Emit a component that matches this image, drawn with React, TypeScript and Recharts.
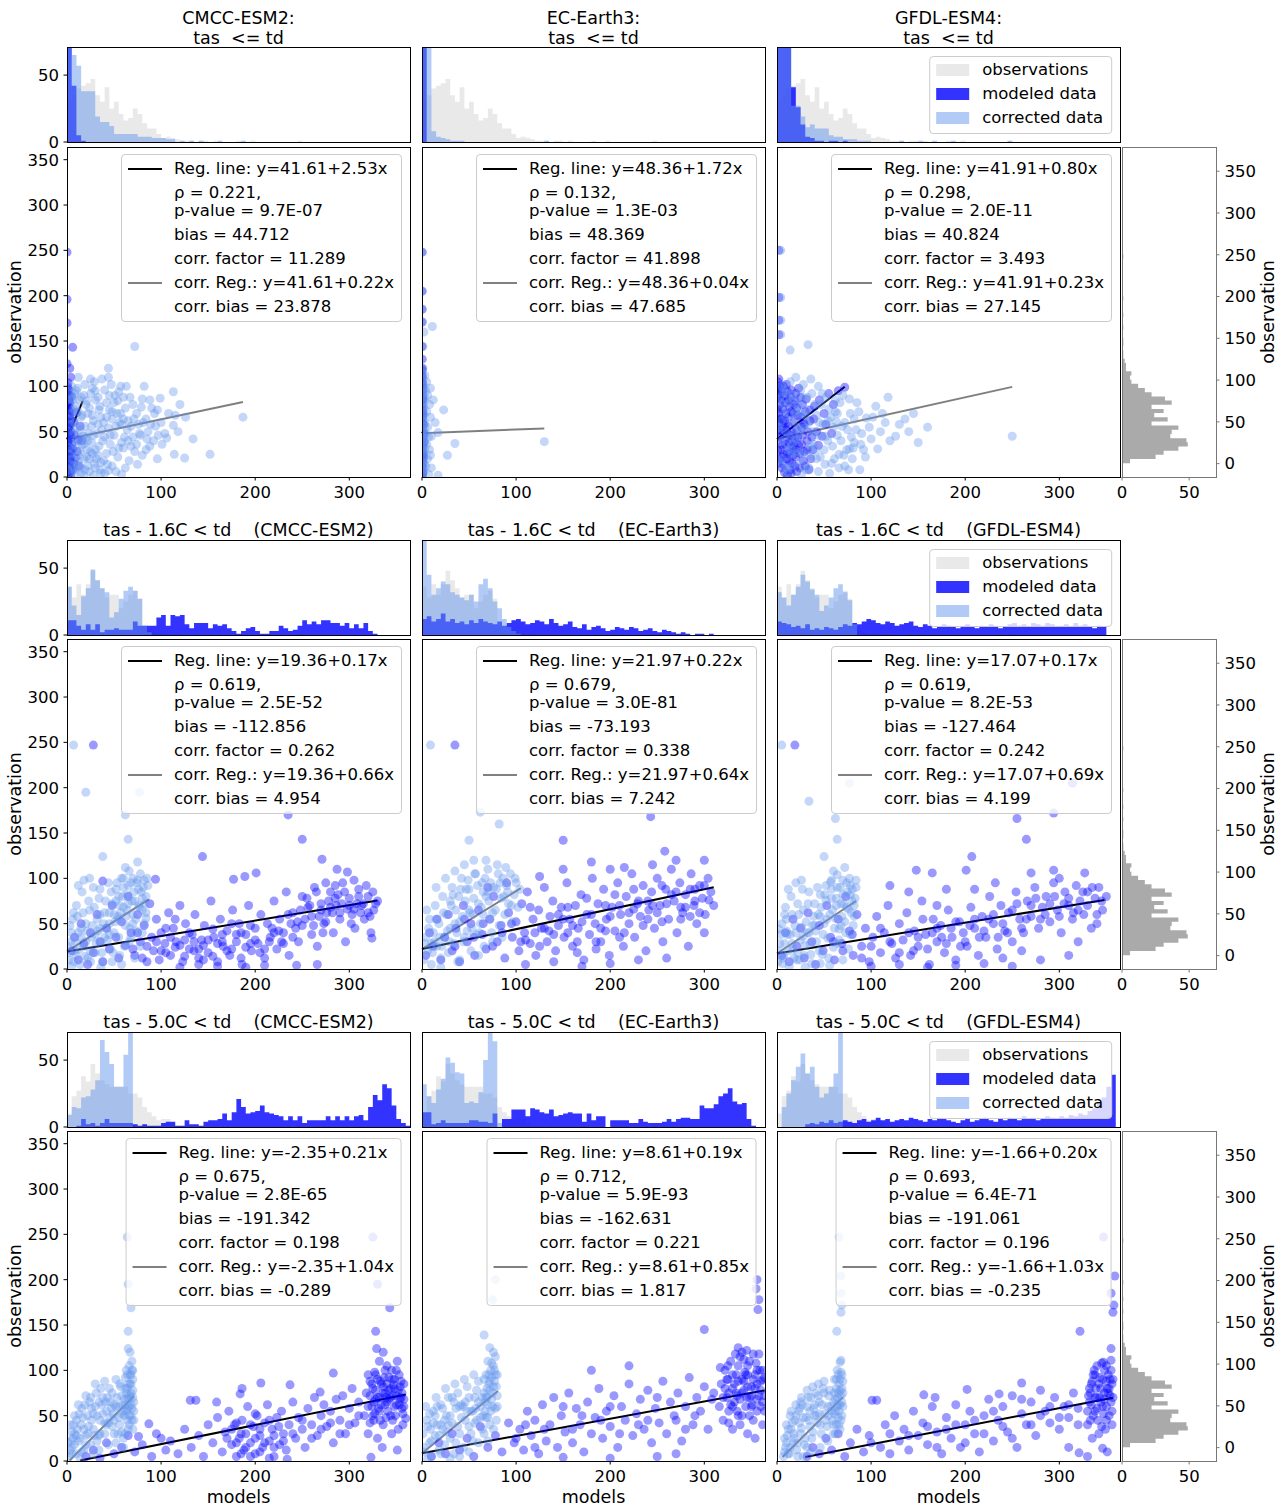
import React from "react";
import { ScatterChart, Scatter, XAxis, YAxis, ReferenceLine, ComposedChart, Area } from "recharts";

const FONT = "'DejaVu Sans', 'Liberation Sans', sans-serif";
const FS = 16.5;
const FS_LABEL = 17.5;
const TICK = { fontSize: FS, fill: "#000", fontFamily: FONT };

// page layout (px)
const COL_X = [67, 422, 777];
const AX_W = 343;
const HIST_Y = [47, 540, 1032];
const HIST_H = 95;
const SC_Y = [147, 639, 1131];
const SC_H = 330;
const RH_X = 1122;
const RH_W = 94;

const X_MAX = 364.5;
const Y_MAX = 364;
const H_MAX = 71;
const BIN = 5;
const Y_TICKS = [0, 50, 100, 150, 200, 250, 300, 350];
const X_TICKS = [0, 100, 200, 300];

const MOD_COLOR = "#0000ff";
const COR_COLOR = "#6495ed";

// ---------- titles ----------
const MODELS = ["CMCC-ESM2", "EC-Earth3", "GFDL-ESM4"];
const CONDITIONS = ["tas  <= td", "tas - 1.6C < td", "tas - 5.0C < td"];

// ---------- histogram counts (5-unit bins from 0) ----------
const OBS_R1 = [30, 35, 40, 42, 44, 47, 35, 30, 41, 25, 30, 21, 16, 18, 25, 21, 14, 10, 10, 6, 3, 4, 3, 2, 1, 1, 1, 0, 1, 1, 0, 1, 0, 0, 0, 0, 1, 0, 0, 1, 0, 0, 0, 0, 0, 0, 0, 0, 0, 1];
const OBS_R2 = [36, 28, 38, 30, 38, 48, 41, 35, 28, 30, 30, 20, 25, 30, 33, 27, 7, 4, 2, 1, 1, 1, 0, 1, 0, 0, 0, 0, 0, 0, 0, 0, 0, 0, 0, 0, 0, 0, 0, 0, 0, 0, 0, 0, 0, 0, 0, 0, 0, 1];
const OBS_R3 = [10, 23, 27, 38, 34, 47, 40, 35, 32, 30, 30, 30, 30, 25, 25, 22, 15, 11, 8, 5, 6, 6, 3, 1, 1, 1, 0, 1, 0, 0, 0, 0, 0, 0, 0, 0, 0, 0, 0, 0, 0, 0, 0, 0, 0, 0, 0, 0, 0, 1];

const HMOD_R1C1 = [250, 42, 5, 1];
const HCOR_R1C1 = [90, 65, 57, 38, 38, 38, 19, 15, 15, 12, 6, 6, 6, 6, 6, 4, 4, 4, 3, 3, 3, 2, 2, 0, 1, 0, 1, 0, 1, 0, 0, 0, 1, 0, 0, 0, 0, 1];
const HMOD_R1C2 = [400];
const HCOR_R1C2 = [200, 80, 8, 4, 3, 2, 1, 1, 1, 0, 0, 0, 0, 0, 0, 0, 0, 0, 0, 0, 0, 0, 0, 0, 0, 0, 1];
const HMOD_R1C3 = [200, 150, 90, 41, 26, 13, 4, 3, 1, 1, 0, 1, 1, 0, 1];
const HCOR_R1C3 = [120, 100, 80, 27, 27, 19, 11, 13, 10, 10, 10, 5, 4, 4, 2, 2, 2, 1, 1, 1, 0, 0, 0, 0, 0, 0, 1, 0, 0, 0, 1, 0, 0, 1, 0, 0, 0, 1, 0, 0, 0, 0, 0, 0, 0, 0, 0, 0, 0, 1];

const HMOD_R2C1 = [11, 11, 7, 4, 8, 4, 8, 2, 4, 4, 5, 4, 4, 4, 10, 7, 7, 7, 7, 13, 15, 7, 15, 14, 15, 8, 5, 9, 9, 9, 5, 8, 7, 8, 5, 3, 1, 3, 5, 6, 3, 1, 1, 3, 3, 7, 5, 3, 4, 7, 11, 8, 10, 8, 11, 11, 9, 9, 7, 9, 5, 8, 5, 9, 3, 1];
const HCOR_R2C1 = [36, 22, 15, 29, 35, 49, 41, 35, 32, 13, 17, 27, 33, 36, 33, 27, 7, 2];
const HMOD_R2C2 = [12, 14, 10, 12, 16, 10, 12, 9, 10, 8, 11, 9, 12, 10, 9, 8, 10, 7, 9, 11, 12, 10, 8, 9, 11, 10, 8, 12, 9, 7, 8, 10, 6, 5, 8, 4, 6, 7, 5, 3, 4, 6, 5, 4, 6, 5, 3, 4, 5, 3, 2, 4, 3, 2, 1, 2, 1, 0, 1, 1, 0, 1];
const HCOR_R2C2 = [75, 45, 30, 35, 40, 38, 32, 30, 28, 26, 30, 25, 38, 42, 35, 25, 20, 12, 6, 3, 1];
const HMOD_R2C3 = [10, 9, 8, 6, 7, 5, 8, 4, 5, 4, 6, 5, 4, 6, 8, 7, 9, 8, 10, 12, 11, 9, 8, 10, 9, 7, 8, 9, 10, 7, 6, 8, 7, 5, 6, 8, 7, 6, 5, 7, 8, 6, 5, 7, 6, 8, 7, 5, 6, 8, 9, 7, 8, 6, 9, 8, 7, 9, 8, 6, 7, 8, 6, 9, 7, 8, 6, 5, 7, 6];
const HCOR_R2C3 = [32, 28, 22, 30, 36, 45, 40, 34, 30, 18, 22, 28, 35, 38, 32, 26, 8];

const HMOD_R3C1 = [0, 0, 1, 6, 2, 3, 1, 3, 6, 3, 3, 3, 3, 3, 2, 1, 2, 1, 1, 1, 3, 4, 4, 1, 1, 5, 2, 2, 1, 4, 5, 5, 6, 10, 5, 11, 21, 15, 10, 11, 12, 16, 11, 10, 9, 8, 5, 8, 5, 8, 3, 5, 5, 5, 5, 8, 5, 8, 5, 8, 5, 8, 9, 5, 15, 24, 20, 32, 29, 16, 6, 3, 1];
const HCOR_R3C1 = [9, 15, 14, 22, 23, 28, 35, 65, 56, 47, 30, 30, 54, 90];
const HMOD_R3C2 = [11, 11, 2, 3, 5, 3, 3, 3, 3, 3, 5, 5, 4, 4, 3, 10, 0, 6, 6, 13, 13, 13, 8, 14, 13, 11, 10, 13, 8, 9, 10, 11, 10, 10, 4, 10, 5, 8, 8, 0, 5, 5, 5, 5, 3, 3, 6, 4, 3, 3, 3, 4, 6, 4, 6, 7, 7, 6, 6, 16, 14, 14, 17, 23, 25, 29, 19, 17, 18, 6, 1];
const HCOR_R3C2 = [32, 23, 18, 28, 36, 52, 48, 41, 40, 18, 19, 18, 26, 50, 85, 64, 3];
const HMOD_R3C3 = [0, 0, 0, 0, 0, 0, 2, 3, 2, 4, 3, 5, 3, 4, 5, 4, 3, 5, 6, 4, 5, 7, 5, 6, 4, 5, 6, 5, 7, 6, 5, 4, 6, 5, 7, 6, 5, 4, 3, 5, 6, 4, 5, 6, 7, 5, 4, 6, 5, 7, 6, 5, 8, 6, 7, 5, 6, 8, 7, 6, 8, 7, 9, 8, 10, 9, 12, 14, 18, 22, 30, 39];
const HCOR_R3C3 = [0, 15, 25, 35, 45, 55, 40, 45, 30, 22, 25, 30, 40, 90];

// right-side observation histogram (5-unit bins from 0.5)
const OBS_RIGHT_START = 0.5;
const OBS_RIGHT = [6, 25, 31, 42, 49, 48, 36, 37, 42, 22, 34, 24, 31, 22, 37, 32, 22, 17, 12, 7, 6, 7, 3, 3, 2, 1, 1, 0, 1, 1, 0, 0, 1, 0, 0, 1, 0, 0, 0, 1, 0, 0, 0, 0, 0, 0, 0, 0, 0, 1];

// ---------- scatter points [x, y, x, y, ...] ----------
const R1C1_MOD = [0,248, 0,196, 0,170, 6,143, 0,125, 3,120, 4,110, 1,104, 2,97, 0.5,92, 1.5,86, 3,82, 0.5,78, 2,73, 1,68, 4,63, 0.5,59, 2.5,55, 1,51, 3,47, 0.5,43, 1.5,39, 5,36, 0.5,31, 2,27, 1,23, 3,19, 0.5,15, 1.5,11, 0.5,6, 2,3, 0.3,1, 7,61, 6,31, 8,46, 10,71, 12,41, 9,21, 14,56, 5,89, 1,35, 2,60, 3,10, 0.2,20, 4,28, 6,8, 1.2,45, 2.2,90, 3.5,75, 0.8,65, 7,15, 11,28, 13,12, 16,40,
  0.5,100, 1,96, 1.5,80, 2,84, 2.5,70, 3,66, 3.5,58, 4,50, 4.5,44, 0.8,38, 1.3,30, 1.8,24, 2.3,16, 2.8,12, 3.3,6, 3.8,2, 0.2,74, 0.6,62, 1.1,53, 1.6,48, 2.1,41, 2.6,33, 3.1,29, 3.6,21, 4.1,17, 4.6,9, 0.1,57, 0.4,47, 0.7,28, 0.9,18];
const R1C1_COR = [2,50, 4,70, 3,40, 1,85, 5,100, 10,95, 15,88, 20,80, 25,92, 30,85, 35,78, 40,96, 45,90, 50,82, 55,94, 60,88, 22,70, 28,62, 34,74, 42,66, 48,72, 56,60, 62,76, 70,80, 74,70, 80,86, 84,64, 90,76, 8,60, 14,52, 20,44, 26,56, 32,48, 38,40, 44,54, 50,46, 58,38, 64,52, 70,44, 76,58, 86,50, 92,40, 100,60, 104,48, 6,30, 12,24, 18,36, 24,20, 30,30, 36,16, 42,26, 48,12, 54,22, 60,32, 66,18, 72,28, 80,24, 88,34, 96,20, 3,15, 8,8, 15,4, 22,12, 28,2, 35,8, 40,4, 52,6, 12,110, 25,108, 37,108, 44,120, 44,110, 67,88, 79,77, 88,85, 96,74, 99,87, 106,43, 113,94, 113,57, 115,68, 125,21, 126,66, 134,42, 152,25, 187,66, 72,144, 75,14, 58,3, 44,7, 114,25, 10,40, 16,68, 18,20, 33,58, 46,36, 53,70, 65,62, 68,34, 78,46, 84,30, 94,56, 108,70, 120,80, 118,50, 7,75, 13,85, 27,98, 63,100, 82,100, 2,5, 5,20, 9,35, 11,12, 14,28, 17,45, 19,8, 21,30, 23,48, 26,38, 29,15,
  3,92, 6,85, 9,78, 12,72, 15,66, 18,90, 21,84, 24,76, 27,68, 30,95, 33,88, 36,66, 39,60, 42,82, 45,74, 48,64, 51,90, 54,84, 57,70, 60,64, 4,58, 7,48, 10,54, 13,44, 16,36, 19,56, 22,40, 25,28, 28,46, 31,20, 34,34, 37,52, 40,44, 43,14, 46,46, 49,28, 52,56, 55,32, 58,58, 61,44, 3,25, 6,12, 9,4, 12,18, 15,10, 18,2, 21,22, 24,6, 27,26, 30,10, 33,24, 36,4, 39,18, 62,10, 65,40, 68,56, 71,64, 74,36, 77,48, 81,60, 85,42, 89,58, 93,70, 97,46, 101,36, 11,98, 19,102, 29,105, 47,102, 57,100, 4,86, 8,92, 1,64, 2,32, 1,8];
const R1C2_MOD = [0,248, 0,205, 0,185, 0,171, 0,144, 0.2,120, 0,110, 0.3,105, 0,100, 0.5,95, 0.2,90, 0.8,85, 0,80, 0.4,75, 1,70, 0.1,65, 0.6,60, 0,55, 0.3,50, 1.2,45, 0,40, 0.5,35, 0.2,30, 0.9,25, 0,20, 0.4,15, 0.1,10, 0.6,5, 0,2, 1.5,58, 2,48, 2.5,38, 1.8,22, 0.3,130, 0.1,88,
  0.1,118, 0.2,112, 0.4,102, 0.1,96, 0.3,86, 0.2,72, 0.5,68, 0.1,58, 0.3,42, 0.2,36, 0.4,28, 0.1,24, 0.3,18, 0.2,12, 0.1,6, 0.4,3];
const R1C2_COR = [2,160, 1,120, 3,112, 5,105, 2,100, 4,95, 6,90, 1,88, 3,84, 8,80, 2,76, 5,72, 9,98, 9,66, 3,60, 6,55, 1,52, 4,48, 7,44, 2,40, 5,36, 9,24, 3,30, 6,20, 1,16, 4,12, 2,6, 7,3, 11,166, 23,74, 17,49, 35,37, 27,24, 130,39, 17,2, 12,85, 14,60, 10,45, 8,30, 10,10, 0.5,248, 0.5,205, 0.5,185, 0.5,171, 1,144, 1,108, 0.5,92, 1,70, 0.5,64, 1,56, 0.5,44, 1,34, 0.5,26, 1,8, 0.5,2,
  0.3,115, 0.8,100, 1.5,96, 0.5,82, 1.2,78, 2,68, 0.7,62, 1.5,50, 0.4,46, 2,42, 1,38, 0.6,30, 1.8,28, 0.3,22, 1.3,18, 2.5,14, 0.8,10, 0.2,4, 3,56, 2.5,88];
const R1C3_MOD = [2,250, 2,198, 2,173, 2,157, 1,105, 3,100, 5,95, 8,90, 10,102, 12,85, 15,96, 18,80, 20,92, 25,88, 3,80, 6,75, 9,70, 12,66, 15,72, 18,60, 22,68, 26,55, 30,72, 35,62, 40,78, 45,85, 50,70, 55,92, 60,80, 65,95, 72,99, 2,60, 4,52, 7,48, 10,44, 13,38, 16,50, 19,42, 23,35, 27,46, 32,40, 38,30, 42,50, 48,45, 4,30, 7,25, 10,20, 13,28, 16,15, 20,22, 24,10, 28,18, 34,8, 1,40, 2,20, 5,10, 8,5, 11,2, 1,75, 3,65, 6,35, 9,58, 14,8, 17,32, 21,52, 29,28, 36,20, 44,35, 52,58, 58,48, 0.5,88, 1,15, 0.5,50,
  1,95, 3,90, 5,85, 7,100, 9,82, 11,94, 13,78, 15,88, 17,70, 19,84, 21,76, 23,98, 25,66, 27,80, 29,58, 31,86, 33,50, 35,74, 37,44, 39,64, 2,70, 4,64, 6,56, 8,62, 10,52, 12,56, 14,46, 16,40, 18,34, 20,30, 22,44, 24,26, 26,36, 28,60, 30,12, 32,30, 3,44, 5,22, 7,14, 9,36, 11,26, 13,18, 15,4, 17,24, 19,12, 21,6, 0.5,30, 1,62, 0.5,98, 2,108];
const R1C3_COR = [4,250, 4,198, 4,173, 4,157, 14,140, 33,146, 250,45, 136,64, 126,45, 107,31, 77,31, 63,61, 5,100, 10,92, 18,85, 25,95, 32,88, 40,80, 48,92, 55,75, 62,85, 70,90, 78,70, 85,82, 95,65, 105,78, 115,60, 8,70, 15,62, 22,55, 30,68, 38,50, 45,60, 52,45, 60,55, 68,40, 75,52, 82,38, 90,48, 100,42, 110,50, 120,40, 5,40, 12,30, 20,42, 28,25, 35,35, 42,20, 50,30, 58,15, 66,25, 72,12, 80,20, 88,8, 3,15, 10,5, 18,12, 26,3, 34,10, 44,6, 2,55, 6,80, 14,105, 20,110, 28,102, 36,108, 44,100, 16,25, 24,70, 54,62, 64,70, 92,30, 98,55, 140,50, 150,38, 160,55, 145,70,
  3,88, 7,96, 12,82, 17,90, 22,78, 27,86, 32,74, 37,92, 42,68, 47,80, 52,88, 57,66, 62,72, 67,82, 72,60, 77,86, 82,64, 87,72, 4,62, 9,50, 14,44, 19,70, 24,48, 29,54, 34,60, 39,36, 44,46, 49,58, 54,40, 59,34, 64,46, 69,56, 74,30, 79,44, 84,52, 89,36, 6,20, 11,10, 16,36, 21,28, 26,16, 31,8, 36,24, 41,30, 46,22, 51,14, 56,4, 61,20, 66,10, 71,24, 76,8, 81,32, 94,22, 102,66, 112,70, 118,88, 130,58];

const R2C1_MOD = [5,20, 8,35, 12,10, 15,50, 18,28, 22,5, 25,40, 28,18, 32,60, 35,30, 38,8, 42,45, 45,22, 48,70, 52,35, 55,12, 58,52, 62,26, 65,80, 68,40, 72,15, 75,60, 78,30, 82,48, 85,8, 88,72, 90,35, 92,20, 95,55, 98,10, 100,40, 104,28, 108,62, 110,15, 113,45, 116,30, 120,70, 123,8, 126,50, 130,22, 133,38, 136,60, 140,12, 143,32, 146,48, 150,18, 153,75, 156,35, 160,8, 163,55, 166,25, 170,42, 173,15, 176,65, 180,30, 183,50, 186,5, 190,38, 193,70, 196,20, 200,45, 203,28, 206,60, 210,12, 213,50, 216,35, 220,75, 223,22, 226,55, 230,40, 233,85, 236,15, 240,62, 243,45, 246,30, 250,80, 253,55, 256,68, 260,38, 263,90, 266,25, 270,72, 273,50, 276,62, 280,85, 283,40, 286,70, 290,55, 293,95, 296,30, 300,78, 303,60, 306,45, 310,88, 313,70, 316,55, 320,80, 323,40, 326,65, 330,75, 268,58, 278,75, 288,82, 298,66, 308,72, 318,92, 258,70, 248,65, 238,50, 228,30, 218,45, 120,2, 160,3, 190,2, 140,5, 210,4, 105,18, 115,24, 125,32, 135,20, 145,26, 155,14, 165,30, 175,22, 185,40, 195,28, 262,48, 272,40, 282,62, 292,72, 302,50, 312,62, 322,58, 285,92, 305,98, 275,95, 28,247, 144,124, 235,170, 250,143, 271,121, 287,110, 298,107, 201,106, 189,102, 177,99, 94,99, 38,97, 244,4, 266,5, 324,34, 328,72,
  70,22, 80,12, 95,30, 100,20, 110,35, 120,26, 130,40, 140,22, 150,32, 160,28, 170,20, 180,38, 190,24, 200,32, 210,22, 220,40, 230,28, 240,35, 250,48, 260,58, 270,65, 280,68, 290,62, 300,70, 310,80, 320,62, 255,78, 265,85, 275,52, 285,78, 295,85, 305,66, 315,72, 325,85, 245,52, 235,60, 225,42, 215,30, 205,18, 195,48, 185,12, 175,50, 165,38, 155,44, 145,10, 135,30, 125,14, 115,55, 105,45, 85,25, 75,40];
const R2C1_COR = [7,247, 20,195, 62,170, 65,143, 38,124, 77,195, 2,10, 4,30, 6,55, 8,20, 10,70, 12,40, 14,5, 16,85, 18,25, 20,50, 22,12, 24,65, 26,35, 28,90, 30,18, 32,55, 34,78, 36,30, 38,8, 40,62, 42,45, 44,95, 46,22, 48,72, 50,40, 52,88, 54,58, 56,15, 58,100, 60,68, 62,48, 64,82, 66,30, 68,95, 70,60, 72,75, 74,42, 76,88, 78,105, 80,65, 82,50, 84,80, 86,92, 70,100, 66,108, 60,90, 55,80, 50,60, 45,50, 40,35, 35,45, 30,38, 25,20, 20,30, 15,45, 10,15, 5,3, 3,48, 1,25, 7,62, 12,92, 18,98, 24,100, 62,112, 75,118, 68,35, 78,25, 72,12, 58,5, 48,8, 36,2, 80,78, 84,62, 76,70, 74,95, 82,98, 64,65, 56,70, 52,75,
  3,18, 5,40, 7,8, 9,30, 11,58, 13,22, 15,35, 17,62, 19,14, 21,42, 23,75, 25,8, 27,48, 29,68, 31,28, 33,42, 35,88, 37,18, 39,50, 41,75, 43,32, 45,62, 47,85, 49,18, 51,52, 53,95, 55,35, 57,62, 59,80, 61,25, 63,58, 65,92, 67,45, 69,75, 71,85, 73,55, 75,98, 77,68, 79,85, 81,90, 83,72, 85,100, 60,100, 65,72, 70,50, 80,40, 84,56, 55,55, 45,38, 35,60];
const R2C2_MOD = [4,15, 8,40, 12,25, 16,55, 20,10, 24,35, 28,60, 32,20, 36,45, 40,8, 44,70, 48,30, 52,50, 56,15, 60,65, 64,38, 68,22, 72,55, 76,80, 80,30, 84,48, 88,12, 92,62, 96,35, 100,52, 103,20, 106,72, 109,40, 112,85, 115,28, 118,55, 121,15, 124,65, 127,45, 130,90, 133,30, 136,58, 139,75, 142,20, 145,48, 148,68, 151,35, 154,95, 157,55, 160,25, 163,70, 166,45, 169,82, 172,10, 175,60, 178,38, 181,100, 184,50, 187,72, 190,30, 193,88, 196,55, 199,15, 202,68, 205,42, 208,95, 211,60, 214,25, 217,80, 220,50, 223,105, 226,35, 229,72, 232,58, 235,92, 238,20, 241,65, 244,85, 247,45, 250,100, 253,70, 256,30, 259,88, 262,55, 265,110, 268,75, 271,40, 274,95, 277,62, 280,82, 283,25, 286,105, 289,70, 292,50, 295,92, 298,78, 301,60, 304,100, 307,85, 310,70, 110,5, 140,8, 170,3, 200,6, 230,10, 260,12, 125,102, 150,110, 180,118, 215,112, 245,115, 270,120, 90,95, 70,90, 155,40, 165,18, 185,22, 195,42, 210,35, 225,88, 240,75, 255,52, 275,68, 290,88, 300,40, 285,58, 243,168, 200,110, 150,142, 300,120, 258,130, 35,247,
  110,32, 120,40, 130,45, 140,38, 150,55, 160,48, 170,52, 180,60, 190,45, 200,58, 210,70, 220,62, 230,75, 240,55, 250,62, 260,72, 270,85, 280,68, 290,75, 300,92, 305,76, 295,62, 285,88, 275,55, 265,82, 255,92, 245,70, 235,48, 225,66, 215,40, 205,82, 195,70, 185,30, 175,78, 165,30, 155,68, 145,60, 135,42, 125,25, 115,68, 105,30, 95,50, 85,40, 75,25, 65,50, 55,35, 45,55, 35,25];
const R2C2_COR = [9,247, 62,173, 50,142, 82,160, 68,120, 2,10, 4,35, 6,20, 8,55, 10,5, 12,40, 14,70, 16,25, 18,50, 20,12, 22,80, 24,35, 26,60, 28,18, 30,45, 32,90, 34,28, 36,65, 38,8, 40,52, 42,100, 44,30, 46,75, 48,42, 50,88, 52,20, 54,60, 56,105, 58,38, 60,72, 62,50, 64,95, 66,25, 68,80, 70,110, 72,55, 74,40, 76,90, 78,65, 80,115, 82,48, 84,78, 86,100, 88,60, 90,92, 92,72, 94,105, 96,52, 98,82, 100,95, 102,68, 104,88, 5,65, 15,90, 25,100, 35,108, 45,115, 55,120, 65,60, 75,30, 85,35, 60,15, 40,10, 20,2, 10,28, 30,75, 50,65, 70,85,
  3,28, 7,45, 11,18, 15,55, 19,35, 23,62, 27,42, 31,70, 35,50, 39,80, 43,58, 47,88, 51,62, 55,78, 59,92, 63,68, 67,100, 71,75, 75,62, 79,88, 83,95, 87,80, 91,85, 95,70, 99,100, 61,40, 53,45, 45,35, 37,40, 29,30, 21,25, 13,30, 65,85, 73,95, 81,105, 89,112, 57,105, 49,98, 41,88, 33,82];
const R2C3_MOD = [5,15, 9,40, 13,8, 17,55, 21,25, 25,45, 29,12, 33,62, 37,30, 41,5, 45,48, 49,20, 53,70, 57,35, 61,10, 65,55, 69,28, 73,80, 77,42, 81,15, 85,60, 90,25, 94,45, 98,8, 102,35, 106,58, 110,18, 114,40, 118,70, 122,28, 126,12, 130,50, 134,32, 138,62, 142,15, 146,42, 150,25, 154,75, 158,38, 162,5, 166,55, 170,30, 174,48, 178,18, 182,65, 186,35, 190,10, 194,52, 198,40, 202,25, 206,68, 210,45, 214,15, 218,58, 222,35, 226,80, 230,50, 234,22, 238,70, 242,42, 246,62, 250,30, 254,85, 258,55, 262,40, 266,75, 270,58, 274,90, 278,45, 282,68, 286,80, 290,52, 294,95, 298,65, 302,40, 306,85, 310,70, 314,55, 318,92, 322,75, 326,60, 330,85, 334,45, 338,78, 342,90, 346,65, 350,80, 100,3, 130,5, 160,2, 190,4, 220,6, 250,3, 280,10, 310,15, 240,12, 170,70, 140,85, 120,92, 180,88, 232,95, 300,100, 320,30, 340,50, 260,20, 210,88, 19,247, 294,172, 255,166, 265,143, 207,124, 148,109, 165,106, 201,109, 270,106, 294,109, 327,106, 141,186, 314,205,
  60,30, 70,20, 80,38, 90,12, 100,25, 110,45, 120,30, 130,18, 140,40, 150,35, 160,22, 170,45, 180,28, 190,52, 200,30, 210,55, 220,42, 230,60, 240,50, 250,65, 260,45, 270,70, 280,55, 290,72, 300,58, 310,78, 320,65, 330,70, 340,60, 345,75, 335,90, 325,85, 315,62, 305,72, 295,80, 285,60, 275,78, 265,55, 255,72, 245,40, 235,35, 225,55, 215,35, 205,48, 195,25, 185,45, 175,35, 165,40, 155,55, 145,20];
const R2C3_COR = [5,247, 34,185, 77,205, 62,166, 64,143, 50,124, 1,8, 3,28, 5,50, 7,15, 9,68, 11,38, 13,3, 15,80, 17,22, 19,48, 21,10, 23,60, 25,32, 27,88, 29,15, 31,52, 33,72, 35,28, 37,6, 39,58, 41,42, 43,90, 45,20, 47,68, 49,38, 51,82, 53,55, 55,12, 57,96, 59,65, 61,45, 63,78, 65,28, 67,90, 69,58, 71,72, 73,40, 75,85, 77,100, 79,62, 81,48, 83,78, 84,90, 70,98, 64,104, 58,88, 52,76, 46,58, 40,48, 34,40, 28,36, 22,18, 16,28, 10,42, 6,12, 2,44, 8,60, 12,88, 20,95, 26,98, 60,108, 72,112, 66,32, 76,22, 70,10, 56,4, 46,6, 30,2, 80,75, 82,58, 74,68, 78,92,
  2,20, 4,38, 6,6, 8,28, 10,55, 12,20, 14,38, 16,60, 18,12, 20,40, 22,72, 24,10, 26,46, 28,65, 30,26, 32,40, 34,85, 36,16, 38,48, 40,72, 42,30, 44,60, 46,82, 48,16, 50,50, 52,92, 54,34, 56,60, 58,78, 60,24, 62,56, 64,90, 66,44, 68,72, 70,82, 72,52, 74,95, 76,66, 78,82, 80,88, 82,70, 84,98, 58,98, 63,70, 68,48, 78,38];

const R3C1_MOD = [325,247, 330,195, 343,169, 328,143, 329,124, 336,120, 351,110, 283,97, 206,86, 237,84, 269,76, 186,80, 184,74, 131,67, 137,67, 159,65, 358,68, 360,47, 87,41, 76,27, 100,25, 323,4, 351,12, 234,2, 20,5, 28,12, 35,3, 42,20, 50,8, 58,15, 65,28, 72,10, 80,18, 90,5, 95,30, 105,12, 110,22, 118,8, 125,35, 132,15, 140,28, 145,5, 150,40, 155,20, 160,48, 165,10, 168,32, 172,55, 175,18, 178,40, 180,5, 183,25, 186,45, 188,12, 190,30, 192,60, 195,20, 198,38, 200,8, 202,50, 205,28, 208,15, 210,42, 213,62, 215,22, 218,35, 220,5, 223,48, 226,18, 228,55, 230,30, 233,12, 236,40, 240,65, 243,25, 246,48, 250,35, 253,15, 256,58, 260,40, 263,70, 266,28, 270,50, 273,62, 276,38, 280,55, 283,20, 286,68, 290,45, 293,72, 296,30, 300,58, 303,80, 306,42, 310,65, 316,50, 318,75, 320,30, 322,88, 324,60, 326,45, 328,95, 330,70, 332,55, 334,85, 336,40, 338,100, 340,65, 342,78, 344,50, 346,90, 348,60, 350,72, 352,35, 354,82, 356,58, 330,25, 335,15, 340,105, 345,30, 325,80, 332,110, 338,62, 342,92, 336,75, 328,68, 320,95, 346,45, 350,100, 355,70, 358,85, 322,42, 327,52, 333,88, 339,48, 344,70, 348,80, 353,62, 357,40,
  320,60, 322,72, 324,85, 326,65, 328,78, 330,90, 332,70, 334,62, 336,82, 338,75, 340,85, 342,68, 344,80, 346,72, 348,90, 350,62, 352,78, 354,68, 356,75, 358,60, 325,50, 333,45, 341,55, 349,50, 357,52, 327,98, 337,92, 345,100, 353,95, 331,58, 339,70, 347,84, 355,88, 170,25, 175,35, 180,20, 185,30, 190,15, 195,40, 200,25, 205,35, 210,20, 215,45, 220,28, 225,38, 230,22, 185,8, 195,5, 205,10, 215,3, 180,42, 200,52, 220,15, 240,30, 250,45, 260,25, 270,35, 280,42, 290,30, 300,40, 310,50];
const R3C1_COR = [64,247, 65,195, 68,169, 65,143, 65,124, 67,120, 69,110, 62,30, 64,45, 66,60, 68,75, 70,90, 63,55, 65,70, 67,85, 69,100, 71,65, 62,80, 64,95, 66,40, 68,50, 70,35, 61,68, 63,100, 65,85, 67,72, 69,58, 71,45, 66,105, 68,95, 70,78, 2,5, 5,15, 8,30, 10,8, 12,22, 15,40, 18,12, 20,28, 22,50, 25,18, 28,35, 30,60, 32,22, 35,45, 38,70, 40,30, 42,55, 45,80, 48,38, 50,62, 52,20, 55,48, 58,72, 60,15, 3,40, 6,25, 10,45, 14,3, 16,58, 24,65, 28,8, 34,12, 36,80, 44,18, 46,65, 54,30, 56,85, 58,52, 8,50, 12,62, 20,72, 26,45, 30,85, 40,88, 48,75, 52,90, 5,32, 18,35, 1,20, 34,28, 42,40, 50,45,
  60,25, 61,50, 62,62, 63,75, 64,58, 65,35, 66,50, 67,95, 68,62, 69,45, 70,70, 71,55, 62,92, 64,80, 66,68, 68,85, 70,100, 60,55, 5,8, 8,18, 11,35, 14,25, 17,48, 20,18, 23,38, 26,58, 29,28, 32,50, 35,30, 38,52, 41,65, 44,42, 47,58, 50,30, 53,70, 56,40, 59,62, 4,22, 10,28, 16,10, 22,30, 28,52, 34,65, 40,42, 46,48, 52,60, 58,32, 3,12, 7,40, 13,52, 19,62, 25,70, 31,75, 37,62, 43,70, 49,52, 55,60, 57,82];
const R3C2_MOD = [356,200, 358,178, 357,167, 355,190, 300,145, 317,103, 336,125, 345,122, 10,5, 18,20, 25,8, 32,30, 40,12, 48,25, 55,5, 62,38, 70,15, 78,28, 85,10, 92,42, 98,20, 104,35, 108,12, 112,55, 116,28, 120,45, 124,8, 128,62, 132,22, 136,40, 140,70, 144,15, 148,50, 152,32, 156,75, 160,20, 164,58, 168,40, 172,10, 176,65, 180,30, 184,48, 188,80, 192,25, 196,55, 200,38, 204,72, 208,15, 212,60, 216,45, 220,85, 224,28, 228,52, 232,68, 236,35, 240,78, 244,20, 248,58, 252,42, 256,88, 260,30, 264,65, 268,50, 272,75, 276,22, 280,60, 284,92, 288,40, 292,70, 296,55, 300,82, 304,35, 308,68, 250,5, 200,3, 150,4, 270,8, 180,100, 220,105, 316,60, 318,85, 320,45, 322,100, 324,70, 326,55, 328,110, 330,80, 332,65, 334,95, 336,50, 338,115, 340,75, 342,88, 344,60, 346,105, 348,70, 350,82, 352,45, 354,95, 356,68, 358,118, 360,78, 362,90, 364,55, 330,35, 338,40, 346,30, 354,25, 362,40, 325,90, 335,72, 343,98, 351,62, 359,100, 340,120, 348,50, 356,85, 364,72,
  320,70, 322,80, 324,90, 326,75, 328,62, 330,95, 332,85, 334,75, 336,105, 338,68, 340,90, 342,78, 344,95, 346,82, 348,110, 350,72, 352,90, 354,80, 356,100, 358,72, 360,88, 362,65, 364,92, 325,105, 335,55, 345,70, 355,108, 330,60, 340,50, 350,60, 360,60, 342,112, 352,118, 333,118, 326,42, 336,88, 346,95, 356,55, 362,100, 100,25, 110,40, 130,35, 150,60, 170,50, 190,45, 210,30, 230,40, 250,70, 270,45, 290,50, 310,75, 120,15, 160,35, 200,60, 240,45, 280,35];
const R3C2_COR = [66,139, 75,178, 78,200, 72,125, 66,30, 68,48, 70,62, 72,78, 74,92, 76,105, 78,115, 80,72, 67,55, 69,70, 71,85, 73,100, 75,60, 77,88, 79,45, 68,95, 70,110, 72,40, 74,68, 76,82, 78,58, 80,95, 66,75, 70,22, 76,35, 1,30, 3,10, 5,45, 8,20, 10,5, 12,55, 14,28, 16,40, 18,12, 20,62, 22,35, 24,18, 26,50, 28,70, 30,25, 32,42, 34,8, 36,58, 38,75, 40,30, 42,48, 44,15, 46,65, 48,82, 50,38, 52,55, 54,22, 56,70, 58,45, 60,88, 62,60, 64,35, 4,60, 9,35, 15,70, 25,80, 35,85, 45,90, 55,95, 60,20, 50,10, 40,5, 30,3, 20,8, 6,2, 12,42, 28,40, 44,60, 57,58,
  65,50, 67,65, 69,80, 71,95, 73,55, 75,75, 77,100, 79,82, 80,60, 66,90, 68,70, 70,48, 72,88, 74,108, 76,120, 78,95, 2,15, 6,38, 10,22, 14,50, 18,28, 22,58, 26,32, 30,50, 34,65, 38,38, 42,62, 46,45, 50,70, 54,55, 58,78, 62,48, 64,70, 8,52, 16,60, 24,45, 32,70, 40,60, 48,55, 56,42, 60,65, 20,40, 36,20, 52,30];
const R3C3_MOD = [347,247, 359,204, 355,185, 358,172, 357,164, 322,143, 355,124, 347,109, 355,111, 32,5, 38,15, 45,8, 52,25, 58,12, 65,30, 72,5, 78,20, 85,35, 92,10, 98,28, 101,67, 106,67, 110,15, 115,40, 120,8, 125,50, 130,22, 135,35, 140,12, 145,55, 150,28, 155,42, 156,73, 160,18, 165,60, 168,70, 170,32, 175,8, 180,48, 185,25, 190,62, 195,15, 200,40, 202,79, 205,55, 210,30, 215,10, 220,50, 225,68, 230,22, 235,45, 236,74, 240,60, 245,32, 250,72, 255,15, 260,52, 260,86, 265,40, 270,65, 275,28, 280,78, 285,55, 290,42, 295,70, 300,35, 305,60, 310,48, 315,75, 320,58, 310,15, 321,9, 330,40, 332,65, 334,85, 336,50, 338,95, 340,70, 342,30, 344,80, 346,60, 348,100, 350,45, 352,75, 354,90, 356,55, 357,70, 335,25, 340,105, 345,38, 350,88, 355,65, 333,75, 338,55, 343,92, 348,68, 353,80, 330,5, 346,14, 351,10,
  330,55, 332,80, 334,62, 336,95, 338,70, 340,58, 342,85, 344,65, 346,90, 348,75, 350,60, 352,95, 354,72, 356,85, 331,72, 335,88, 339,80, 343,70, 347,52, 351,80, 355,100, 357,90, 333,45, 341,45, 349,35, 353,50, 337,100, 345,108, 350,105, 356,40, 200,20, 210,45, 220,30, 230,55, 240,38, 250,25, 260,68, 270,40, 280,50, 290,60, 300,48, 310,62, 320,40, 180,35, 160,38, 140,28, 120,30, 100,20, 190,40, 170,15];
const R3C3_COR = [66,247, 68,204, 68,185, 69,172, 68,164, 63.5,143, 67,109, 68,111, 60,40, 62,55, 64,70, 66,85, 68,98, 70,60, 61,75, 63,90, 65,48, 67,62, 69,80, 62,30, 64,100, 66,40, 68,72, 70,88, 60,65, 65,95, 69,50, 67,35, 7,5, 9,15, 11,28, 13,8, 15,35, 17,20, 19,45, 21,12, 23,55, 25,30, 27,62, 29,18, 31,48, 33,70, 35,38, 37,25, 39,58, 41,75, 43,42, 45,65, 47,30, 49,80, 51,52, 53,38, 55,72, 57,60, 59,45, 10,40, 14,50, 20,62, 26,70, 32,78, 38,82, 44,85, 50,88, 8,25, 18,30, 28,5, 36,10, 46,15, 54,22, 24,42, 40,50,
  60,30, 61,52, 62,68, 63,80, 64,60, 65,75, 66,55, 67,90, 68,45, 69,65, 70,75, 61,90, 63,40, 65,62, 67,78, 69,95, 8,10, 10,20, 12,35, 14,15, 16,42, 18,25, 20,50, 22,20, 24,58, 26,36, 28,48, 30,25, 32,60, 34,45, 36,70, 38,32, 40,62, 42,50, 44,72, 46,40, 48,62, 50,75, 52,45, 54,60, 56,78, 58,55, 15,55, 25,65, 35,55, 45,52, 55,50, 12,8, 22,5, 32,15];

// ---------- regression lines: intercept, slope, x-range (model / corrected) ----------
const REG_R1C1 = { a: 41.61, b: 2.53, mx: [0, 16.7], bc: 0.22, cx: [0, 187] };
const REG_R1C2 = { a: 48.36, b: 1.72, mx: [0, 2.5], bc: 0.04, cx: [0, 130] };
const REG_R1C3 = { a: 41.91, b: 0.8, mx: [0, 72], bc: 0.23, cx: [0, 250] };
const REG_R2C1 = { a: 19.36, b: 0.17, mx: [0, 330], bc: 0.66, cx: [0, 87] };
const REG_R2C2 = { a: 21.97, b: 0.22, mx: [0, 310], bc: 0.64, cx: [0, 105] };
const REG_R2C3 = { a: 17.07, b: 0.17, mx: [0, 348], bc: 0.69, cx: [0, 84] };
const REG_R3C1 = { a: -2.35, b: 0.21, mx: [14, 360], bc: 1.04, cx: [2.8, 71.3] };
const REG_R3C2 = { a: 8.61, b: 0.19, mx: [0, 364], bc: 0.85, cx: [0, 80.7] };
const REG_R3C3 = { a: -1.66, b: 0.2, mx: [30, 357], bc: 1.03, cx: [5.9, 70] };

// ---------- legend texts ----------
const LEG_R1C1 = ["Reg. line: y=41.61+2.53x", "ρ = 0.221,", "p-value = 9.7E-07", "bias = 44.712", "corr. factor = 11.289", "corr. Reg.: y=41.61+0.22x", "corr. bias = 23.878"];
const LEG_R1C2 = ["Reg. line: y=48.36+1.72x", "ρ = 0.132,", "p-value = 1.3E-03", "bias = 48.369", "corr. factor = 41.898", "corr. Reg.: y=48.36+0.04x", "corr. bias = 47.685"];
const LEG_R1C3 = ["Reg. line: y=41.91+0.80x", "ρ = 0.298,", "p-value = 2.0E-11", "bias = 40.824", "corr. factor = 3.493", "corr. Reg.: y=41.91+0.23x", "corr. bias = 27.145"];
const LEG_R2C1 = ["Reg. line: y=19.36+0.17x", "ρ = 0.619,", "p-value = 2.5E-52", "bias = -112.856", "corr. factor = 0.262", "corr. Reg.: y=19.36+0.66x", "corr. bias = 4.954"];
const LEG_R2C2 = ["Reg. line: y=21.97+0.22x", "ρ = 0.679,", "p-value = 3.0E-81", "bias = -73.193", "corr. factor = 0.338", "corr. Reg.: y=21.97+0.64x", "corr. bias = 7.242"];
const LEG_R2C3 = ["Reg. line: y=17.07+0.17x", "ρ = 0.619,", "p-value = 8.2E-53", "bias = -127.464", "corr. factor = 0.242", "corr. Reg.: y=17.07+0.69x", "corr. bias = 4.199"];
const LEG_R3C1 = ["Reg. line: y=-2.35+0.21x", "ρ = 0.675,", "p-value = 2.8E-65", "bias = -191.342", "corr. factor = 0.198", "corr. Reg.: y=-2.35+1.04x", "corr. bias = -0.289"];
const LEG_R3C2 = ["Reg. line: y=8.61+0.19x", "ρ = 0.712,", "p-value = 5.9E-93", "bias = -162.631", "corr. factor = 0.221", "corr. Reg.: y=8.61+0.85x", "corr. bias = 1.817"];
const LEG_R3C3 = ["Reg. line: y=-1.66+0.20x", "ρ = 0.693,", "p-value = 6.4E-71", "bias = -191.061", "corr. factor = 0.196", "corr. Reg.: y=-1.66+1.03x", "corr. bias = -0.235"];

const HIST_LEGEND = [
  { label: "observations", color: "#e9e9e9" },
  { label: "modeled data", color: "#3333ff" },
  { label: "corrected data", color: "#b1caf6" },
];

const PANELS = [
  { row: 0, col: 0, mod: R1C1_MOD, cor: R1C1_COR, obs: OBS_R1, hMod: HMOD_R1C1, hCor: HCOR_R1C1, reg: REG_R1C1, leg: LEG_R1C1 },
  { row: 0, col: 1, mod: R1C2_MOD, cor: R1C2_COR, obs: OBS_R1, hMod: HMOD_R1C2, hCor: HCOR_R1C2, reg: REG_R1C2, leg: LEG_R1C2 },
  { row: 0, col: 2, mod: R1C3_MOD, cor: R1C3_COR, obs: OBS_R1, hMod: HMOD_R1C3, hCor: HCOR_R1C3, reg: REG_R1C3, leg: LEG_R1C3 },
  { row: 1, col: 0, mod: R2C1_MOD, cor: R2C1_COR, obs: OBS_R2, hMod: HMOD_R2C1, hCor: HCOR_R2C1, reg: REG_R2C1, leg: LEG_R2C1 },
  { row: 1, col: 1, mod: R2C2_MOD, cor: R2C2_COR, obs: OBS_R2, hMod: HMOD_R2C2, hCor: HCOR_R2C2, reg: REG_R2C2, leg: LEG_R2C2 },
  { row: 1, col: 2, mod: R2C3_MOD, cor: R2C3_COR, obs: OBS_R2, hMod: HMOD_R2C3, hCor: HCOR_R2C3, reg: REG_R2C3, leg: LEG_R2C3 },
  { row: 2, col: 0, mod: R3C1_MOD, cor: R3C1_COR, obs: OBS_R3, hMod: HMOD_R3C1, hCor: HCOR_R3C1, reg: REG_R3C1, leg: LEG_R3C1 },
  { row: 2, col: 1, mod: R3C2_MOD, cor: R3C2_COR, obs: OBS_R3, hMod: HMOD_R3C2, hCor: HCOR_R3C2, reg: REG_R3C2, leg: LEG_R3C2 },
  { row: 2, col: 2, mod: R3C3_MOD, cor: R3C3_COR, obs: OBS_R3, hMod: HMOD_R3C3, hCor: HCOR_R3C3, reg: REG_R3C3, leg: LEG_R3C3 },
];

const toPts = (flat: number[]) => {
  const out: { x: number; y: number }[] = [];
  for (let i = 0; i < flat.length; i += 2) out.push({ x: flat[i], y: flat[i + 1] });
  return out;
};

// left bin edges + closing edge, for step areas
const toSteps = (counts: number[], start = 0) => [
  ...counts.map((c, i) => ({ x: start + i * BIN, c })),
  { x: start + counts.length * BIN, c: 0 },
];

const dot = (color: string, op: number) => (props: any) =>
  props.cx == null ? <g /> : <circle cx={props.cx} cy={props.cy} r={4.5} fill={color} fillOpacity={op} />;

const Frame = ({ left, top, width, height, color = "#000" }: any) => (
  <div
    style={{
      position: "absolute", left, top, width: width + 1, height: height + 1,
      border: `1px solid ${color}`, boxSizing: "border-box", pointerEvents: "none",
    }}
  />
);

function TopHist({ p }: any) {
  const YW = 50;
  const XH = 10;
  const left = COL_X[p.col];
  const top = HIST_Y[p.row];
  return (
    <>
      <div style={{ position: "absolute", left: left - YW, top }}>
        <ComposedChart width={YW + AX_W} height={HIST_H + XH} margin={{ top: 0, right: 0, bottom: 0, left: 0 }}>
          <XAxis type="number" dataKey="x" domain={[0, X_MAX]} ticks={X_TICKS} interval={0} height={XH}
            axisLine={false} tickLine={{ stroke: "#000" }} tickSize={3.5} tick={false} allowDataOverflow />
          <YAxis type="number" domain={[0, H_MAX]} ticks={[0, 50]} interval={0} width={YW}
            axisLine={false} tickLine={{ stroke: "#000" }} tickSize={3.5} tickMargin={4.5}
            tick={p.col === 0 ? TICK : false} allowDataOverflow />
          <Area data={toSteps(p.obs)} dataKey="c" type="stepAfter" fill="#d3d3d3" fillOpacity={0.5}
            stroke="none" dot={false} activeDot={false} isAnimationActive={false} />
          <Area data={toSteps(p.hMod)} dataKey="c" type="stepAfter" fill="#0000ff" fillOpacity={0.8}
            stroke="none" dot={false} activeDot={false} isAnimationActive={false} />
          <Area data={toSteps(p.hCor)} dataKey="c" type="stepAfter" fill="#6495ed" fillOpacity={0.5}
            stroke="none" dot={false} activeDot={false} isAnimationActive={false} />
        </ComposedChart>
      </div>
      <Frame left={left} top={top} width={AX_W} height={HIST_H} />
      {p.col === 2 && (
        <div
          style={{
            position: "absolute", left: left + AX_W - 8, top: top + 9, transform: "translateX(-100%)",
            background: "rgba(255,255,255,0.8)", border: "1px solid #cccccc", borderRadius: 4,
            paddingRight: 8, paddingBottom: 6, fontFamily: FONT, fontSize: FS,
          }}
        >
          {HIST_LEGEND.map((e, i) => (
            <div key={e.label} style={{ position: "relative", height: 18, lineHeight: "18px", marginTop: i === 0 ? 4 : 6, paddingLeft: 52, whiteSpace: "pre" }}>
              <span style={{ position: "absolute", left: 6, top: 3, width: 33, height: 12, background: e.color }} />
              {e.label}
            </div>
          ))}
        </div>
      )}
    </>
  );
}

function ScatterPanel({ p }: any) {
  const YW = 50;
  const XH = 30;
  const left = COL_X[p.col];
  const top = SC_Y[p.row];
  const r = p.reg;
  const blackSeg = [{ x: r.mx[0], y: r.a + r.b * r.mx[0] }, { x: r.mx[1], y: r.a + r.b * r.mx[1] }];
  const graySeg = [{ x: r.cx[0], y: r.a + r.bc * r.cx[0] }, { x: r.cx[1], y: r.a + r.bc * r.cx[1] }];
  const mt = [5, 6, 0, 6, 6, 6, 6];
  return (
    <>
      <div style={{ position: "absolute", left: left - YW, top }}>
        <ScatterChart width={YW + AX_W} height={SC_H + XH} margin={{ top: 0, right: 0, bottom: 0, left: 0 }}>
          <XAxis type="number" dataKey="x" domain={[0, X_MAX]} ticks={X_TICKS} interval={0} height={XH}
            axisLine={false} tickLine={{ stroke: "#000" }} tickSize={3.5} tickMargin={5.5} tick={TICK} allowDataOverflow />
          <YAxis type="number" dataKey="y" domain={[0, Y_MAX]} ticks={Y_TICKS} interval={0} width={YW}
            axisLine={false} tickLine={{ stroke: "#000" }} tickSize={3.5} tickMargin={4.5}
            tick={p.col === 0 ? TICK : false} allowDataOverflow />
          <Scatter data={toPts(p.mod)} shape={dot(MOD_COLOR, 0.4)} isAnimationActive={false} />
          <Scatter data={toPts(p.cor)} shape={dot(COR_COLOR, 0.38)} isAnimationActive={false} />
          <ReferenceLine segment={blackSeg} stroke="#000" strokeWidth={2} ifOverflow="visible" />
          <ReferenceLine segment={graySeg} stroke="#000" strokeOpacity={0.5} strokeWidth={2} ifOverflow="visible" />
        </ScatterChart>
      </div>
      <Frame left={left} top={top} width={AX_W} height={SC_H} />
      <div
        style={{
          position: "absolute", left: left + AX_W - 8, top: top + 7, transform: "translateX(-100%)",
          background: "rgba(255,255,255,0.8)", border: "1px solid #cccccc", borderRadius: 4,
          paddingRight: 7, paddingBottom: 5, fontFamily: FONT, fontSize: FS,
        }}
      >
        {p.leg.map((t: string, i: number) => (
          <div key={i} style={{ position: "relative", height: 18, lineHeight: "18px", marginTop: mt[i], paddingLeft: 52, whiteSpace: "pre" }}>
            {(i === 0 || i === 5) && (
              <span style={{ position: "absolute", left: 6, top: 8, width: 34, height: 2, background: i === 0 ? "#000" : "#808080" }} />
            )}
            {t}
          </div>
        ))}
      </div>
    </>
  );
}

function RightHist({ row }: any) {
  const LW = 20;
  const RW = 60;
  const XH = 30;
  const top = SC_Y[row];
  const data = OBS_RIGHT.map((c, i) => ({ v: OBS_RIGHT_START + i * BIN, c }));
  data.push({ v: OBS_RIGHT_START + OBS_RIGHT.length * BIN, c: 0 });
  return (
    <>
      <div style={{ position: "absolute", left: RH_X - LW, top }}>
        <ComposedChart layout="vertical" width={LW + RH_W + RW} height={SC_H + XH} data={data} margin={{ top: 0, right: 0, bottom: 0, left: LW }}>
          <XAxis type="number" domain={[0, 70]} ticks={[0, 50]} interval={0} height={XH}
            axisLine={false} tickLine={{ stroke: "#777" }} tickSize={3.5} tickMargin={5.5} tick={TICK} allowDataOverflow />
          <YAxis type="number" dataKey="v" orientation="right" reversed domain={[-16, 379]} ticks={Y_TICKS} interval={0} width={RW}
            axisLine={false} tickLine={{ stroke: "#777" }} tickSize={3.5} tickMargin={5} tick={TICK} allowDataOverflow />
          <Area dataKey="c" type="stepBefore" fill="#aaaaaa" fillOpacity={1} stroke="none"
            dot={false} activeDot={false} isAnimationActive={false} />
        </ComposedChart>
      </div>
      <Frame left={RH_X} top={top} width={RH_W} height={SC_H} color="#777" />
    </>
  );
}

const textBase: React.CSSProperties = {
  position: "absolute", fontFamily: FONT, fontSize: FS_LABEL, color: "#000", whiteSpace: "pre", textAlign: "center",
};

export default function App() {
  return (
    <div style={{ position: "absolute", left: 0, top: 0, width: 1288, height: 1508, background: "#fff", overflow: "hidden" }}>
      {/* titles */}
      {MODELS.map((m, c) => (
        <div key={"t0" + c} style={{ ...textBase, left: COL_X[c], top: 8, width: AX_W, lineHeight: "20px" }}>
          {m + ":\n" + CONDITIONS[0]}
        </div>
      ))}
      {[1, 2].map((r) =>
        MODELS.map((m, c) => (
          <div key={"t" + r + c} style={{ ...textBase, left: COL_X[c], top: HIST_Y[r] - 20, width: AX_W, lineHeight: "20px" }}>
            {CONDITIONS[r] + "    (" + m + ")"}
          </div>
        ))
      )}

      {PANELS.map((p) => <TopHist key={"h" + p.row + p.col} p={p} />)}
      {PANELS.map((p) => <ScatterPanel key={"s" + p.row + p.col} p={p} />)}
      {[0, 1, 2].map((r) => <RightHist key={"r" + r} row={r} />)}

      {/* axis labels */}
      {[0, 1, 2].map((r) => (
        <React.Fragment key={"yl" + r}>
          <div style={{ ...textBase, left: 15 - 70, top: SC_Y[r] + SC_H / 2 - 10, width: 140, lineHeight: "20px", transform: "rotate(-90deg)" }}>
            observation
          </div>
          <div style={{ ...textBase, left: 1268 - 70, top: SC_Y[r] + SC_H / 2 - 10, width: 140, lineHeight: "20px", transform: "rotate(-90deg)" }}>
            observation
          </div>
        </React.Fragment>
      ))}
      {COL_X.map((x, c) => (
        <div key={"xl" + c} style={{ ...textBase, left: x, top: 1487, width: AX_W, lineHeight: "20px" }}>
          models
        </div>
      ))}
    </div>
  );
}
